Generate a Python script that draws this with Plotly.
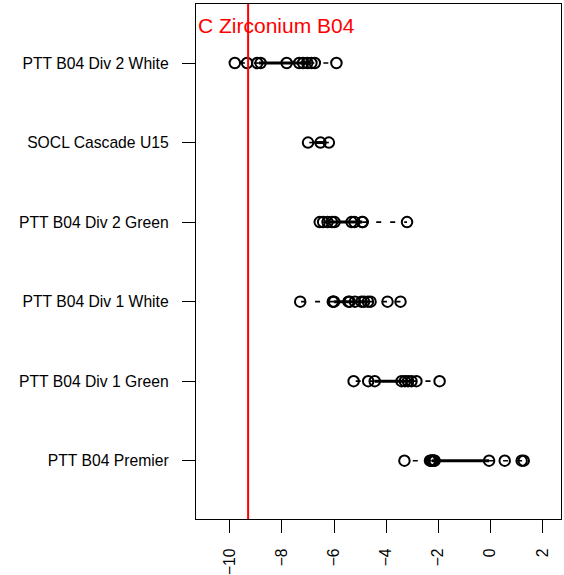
import math
import plotly.graph_objects as go

# ---- data ----
categories = ["PTT B04 Premier", "PTT B04 Div 1 Green", "PTT B04 Div 1 White",
              "PTT B04 Div 2 Green", "SOCL Cascade U15", "PTT B04 Div 2 White"]

premier = [-3.3, -2.32, -2.28, -2.25, -2.23, -2.2, -2.18, -2.16, -2.14, -0.05, 0.55, 1.2, 1.28]
div1_green = [-5.25, -4.69, -4.44, -3.41, -3.28, -3.16, -3.03, -2.84, -1.95]
div1_white = [-7.3, -6.05, -6.03, -6.0, -5.45, -5.4, -5.2, -4.95, -4.85, -4.7, -4.6, -3.95, -3.45]
div2_green = [-6.55, -6.42, -6.25, -6.08, -5.98, -5.33, -5.22, -4.92, -4.9, -3.2]
socl_u15 = [-7.0, -6.52, -6.2]
div2_white = [-9.81, -9.34, -8.95, -8.82, -7.82, -7.34, -7.19, -7.03, -6.87, -6.74, -5.91]

series = [premier, div1_green, div1_white, div2_green, socl_u15, div2_white]

reference_value = -9.3
reference_label = "C Zirconium B04"
x_ticks = [-10, -8, -6, -4, -2, 0, 2]


def fivenum(values):
    x = sorted(values)
    n = len(x)
    n4 = math.floor((n + 3) / 2) / 2
    d = [1, n4, (n + 1) / 2, n + 1 - n4, n]
    return [0.5 * (x[math.floor(di - 1)] + x[math.ceil(di - 1)]) for di in d]


FONT = "Liberation Sans, Arial, sans-serif"
fig = go.Figure()

for cat, vals in zip(categories, series):
    _, q1, med, q3, _ = fivenum(vals)
    iqr = q3 - q1
    lo = min(v for v in vals if v >= q1 - 1.5 * iqr)
    hi = max(v for v in vals if v <= q3 + 1.5 * iqr)
    # whiskers (dashed)
    fig.add_trace(go.Scatter(x=[q1, lo], y=[cat, cat], mode="lines",
                             line=dict(color="black", width=1.6, dash="5px,9px"),
                             hoverinfo="skip", showlegend=False))
    fig.add_trace(go.Scatter(x=[q3, hi], y=[cat, cat], mode="lines",
                             line=dict(color="black", width=1.6, dash="5px,9px"),
                             hoverinfo="skip", showlegend=False))
    # box (very thin)
    fig.add_trace(go.Scatter(x=[q1, q3], y=[cat, cat], mode="lines",
                             line=dict(color="black", width=3),
                             hoverinfo="skip", showlegend=False))
    # points
    fig.add_trace(go.Scatter(x=vals, y=[cat] * len(vals), mode="markers",
                             marker=dict(symbol="circle-open", size=10.5,
                                         color="black", line=dict(width=2, color="black")),
                             showlegend=False))

fig.add_shape(type="line", xref="x", yref="paper", x0=reference_value, x1=reference_value,
              y0=0, y1=1, line=dict(color="red", width=2))

fig.add_annotation(text=reference_label, xref="paper", yref="paper", x=0, y=0.958,
                   xanchor="left", yanchor="middle", showarrow=False,
                   font=dict(family=FONT, size=21, color="red"))

axis_common = dict(showline=True, mirror=True, linecolor="black", linewidth=1.3,
                   ticks="outside", ticklen=13, tickwidth=1.3, tickcolor="black",
                   showgrid=False, zeroline=False, automargin=False,
                   tickfont=dict(family=FONT, size=15.7, color="black"))

fig.update_layout(
    width=564, height=575,
    margin=dict(l=196, r=3, t=4, b=56),
    paper_bgcolor="white", plot_bgcolor="white",
    xaxis=dict(range=[-11.30, 2.71], tickmode="array", tickvals=x_ticks,
               tickangle=-90, ticklabelstandoff=9, **axis_common),
    yaxis=dict(type="category", categoryorder="array", categoryarray=categories,
               range=[-0.733, 5.742], ticklabelstandoff=10, **axis_common),
    font=dict(family=FONT),
)

fig.write_html("out.html",
               config={"displayModeBar": False},
               post_script="document.body.style.margin='0px';"
                           "document.body.style.overflow='hidden';")
